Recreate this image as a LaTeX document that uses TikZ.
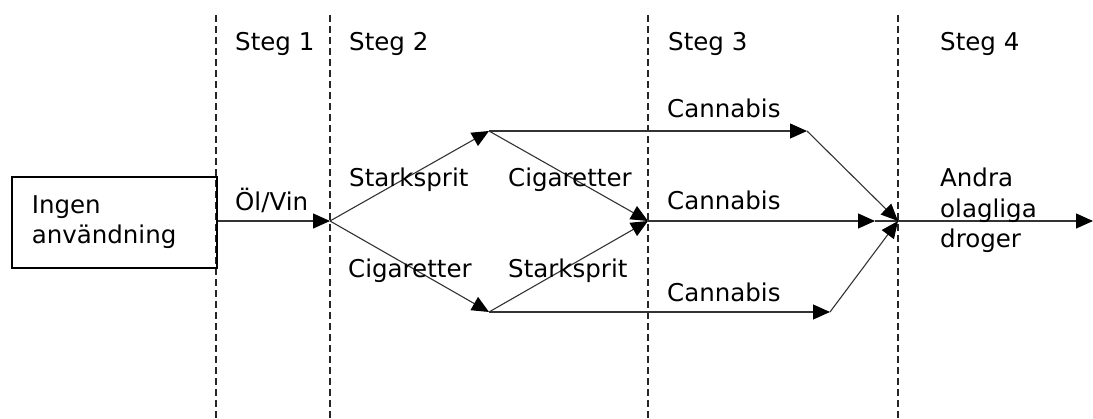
\documentclass[tikz,border=0pt]{standalone}
\usepackage{fontspec}
\setmainfont{DejaVu Sans}
\usetikzlibrary{arrows.meta}
\begin{document}
\begin{tikzpicture}[x=1pt,y=-1pt,
  lbl/.style={anchor=base west,inner sep=0pt,font=\fontsize{24.5}{30.5}\selectfont},
  conn/.style={line width=1.1pt,draw=black!80},
  arr/.style={conn,-{Triangle[length=17pt,width=15pt,color=black,fill=black]}},
  sep/.style={line width=1.4pt,dash pattern=on 7pt off 4pt,draw=black!85}]
\useasboundingbox (0,0) rectangle (1093,419);
% stage separators
\draw[sep] (216,15) -- (216,419);
\draw[sep] (330,15) -- (330,419);
\draw[sep] (648,15) -- (648,419);
\draw[sep] (898,15) -- (898,419);
% stage titles
\node[lbl] (s1) at (235,51) {Steg 1};
\node[lbl] (s2) at (349,51) {Steg 2};
\node[lbl] (s3) at (668,51) {Steg 3};
\node[lbl] (s4) at (940,51) {Steg 4};
% start box
\node[draw,line width=1.6pt,anchor=north west,minimum width=205pt,minimum height=91pt,
  text width=165pt,align=left,inner xsep=20pt,inner ysep=0pt,
  font=\fontsize{24.5}{30.5}\selectfont] (box) at (11,176) {Ingen\\användning};
% junctions
\coordinate (a) at (330,221);
\coordinate (t) at (489,131);
\coordinate (b) at (489,312);
\coordinate (m) at (648,221);
\coordinate (t2) at (807,131);
\coordinate (m2) at (875,221);
\coordinate (b2) at (830,312);
\coordinate (e) at (898,221);
\coordinate (out) at (1093,221);
% connectors
\draw[arr] (box.east|-a) -- (a);
\draw[arr] (a) -- (t);
\draw[arr] (a) -- (b);
\draw[arr] (t) -- (m);
\draw[arr] (b) -- (m);
\draw[arr] (t) -- (t2);
\draw[arr] (m) -- (m2);
\draw[conn] (m2) -- (e);
\draw[arr] (b) -- (b2);
\draw[arr] (t2) -- (e);
\draw[arr] (b2) -- (e);
\draw[arr] (e) -- (out);
% labels
\node[lbl] (l0) at (235,211) {Öl/Vin};
\node[lbl] (l1) at (349,187) {Starksprit};
\node[lbl] (l2) at (348,278) {Cigaretter};
\node[lbl] (l3) at (508,187) {Cigaretter};
\node[lbl] (l4) at (508,278) {Starksprit};
\node[lbl] (c1) at (667,118) {Cannabis};
\node[lbl] (c2) at (667,210) {Cannabis};
\node[lbl] (c3) at (667,302) {Cannabis};
\node[lbl,align=left,anchor=north west] (l5) at (940,168) {Andra\\olagliga\\droger};
\end{tikzpicture}
\end{document}
